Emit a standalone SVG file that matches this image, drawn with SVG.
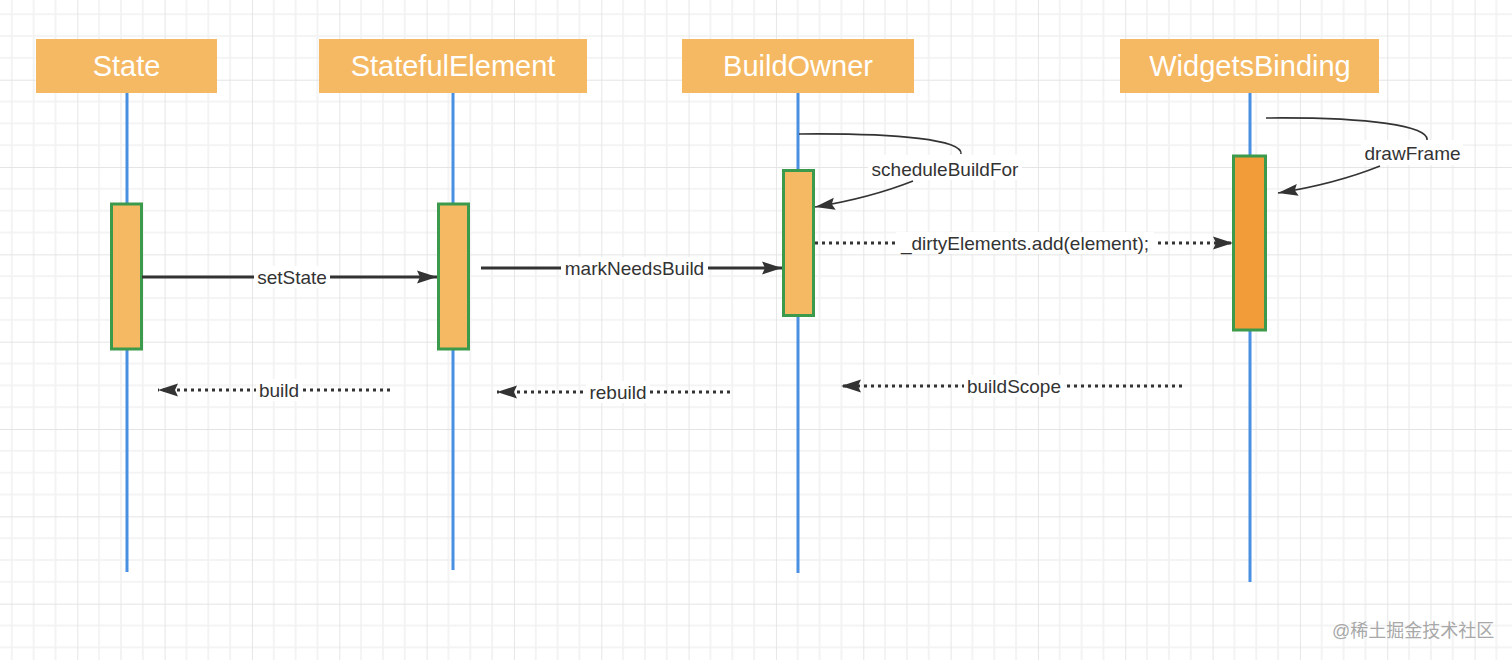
<svg xmlns="http://www.w3.org/2000/svg" width="1512" height="660" viewBox="0 0 1512 660">
<style>
.hdr{fill:#f5b963}
.hdrt{font-family:"Liberation Sans",Arial,sans-serif;font-size:29px;fill:#ffffff;text-anchor:middle}
.life{stroke:#4a90e2;stroke-width:3;fill:none}
.act{fill:#f5b963;stroke:#3c9a4c;stroke-width:3}
.act2{fill:#f19c38;stroke:#3c9a4c;stroke-width:3}
.solid{stroke:#333;stroke-width:3;fill:none}
.dot{stroke:#333;stroke-width:3;fill:none;stroke-dasharray:3 4}
.curve{stroke:#333;stroke-width:1.6;fill:none}
.lbl{font-family:"Liberation Sans",Arial,sans-serif;font-size:19px;fill:#333;text-anchor:middle}
.bg{fill:#ffffff}
.wm{font-family:"Liberation Sans","Noto Sans CJK SC",sans-serif;font-size:18px;fill:#a8a8a8}
</style>
<defs>
<pattern id="grid" patternUnits="userSpaceOnUse" x="77.3" y="79.7" width="87.33" height="87.33">
<g stroke="#f1f1f1" stroke-width="1.6">
<line x1="21.83" y1="0" x2="21.83" y2="87.33"/>
<line x1="43.67" y1="0" x2="43.67" y2="87.33"/>
<line x1="65.5" y1="0" x2="65.5" y2="87.33"/>
<line x1="0" y1="21.83" x2="87.33" y2="21.83"/>
<line x1="0" y1="43.67" x2="87.33" y2="43.67"/>
<line x1="0" y1="65.5" x2="87.33" y2="65.5"/>
</g>
<g stroke="#e4e4e4" stroke-width="1.8">
<line x1="0" y1="0" x2="0" y2="87.33"/>
<line x1="0" y1="0" x2="87.33" y2="0"/>
</g>
</pattern>
<marker id="ah" markerUnits="userSpaceOnUse" markerWidth="22" markerHeight="14" refX="20" refY="7" orient="auto">
<path d="M0,0.5 L20,7 L0,13.5 L3,7 z" fill="#333"/>
</marker>
<marker id="ahs" markerUnits="userSpaceOnUse" markerWidth="22" markerHeight="14" refX="20" refY="7" orient="auto">
<path d="M0,1 L20,7 L0,13 L3,7 z" fill="#333"/>
</marker>
</defs>
<rect width="1512" height="660" fill="#ffffff"/>
<rect width="1512" height="660" fill="url(#grid)"/>

<g id="lifelines">
<line class="life" x1="127" y1="93" x2="127" y2="572"/>
<line class="life" x1="453" y1="93" x2="453" y2="570"/>
<line class="life" x1="798" y1="93" x2="798" y2="573"/>
<line class="life" x1="1250" y1="93" x2="1250" y2="582"/>
</g>

<g id="State">
<rect class="hdr" x="36" y="39" width="181" height="54"/>
<text class="hdrt" x="126.5" y="76">State</text>
<rect class="act" x="111.5" y="204" width="30" height="145"/>
</g>
<g id="StatefulElement">
<rect class="hdr" x="319" y="39" width="268" height="54"/>
<text class="hdrt" x="453" y="76">StatefulElement</text>
<rect class="act" x="438.5" y="204" width="30" height="145"/>
</g>
<g id="BuildOwner">
<rect class="hdr" x="682" y="39" width="232" height="54"/>
<text class="hdrt" x="798" y="76">BuildOwner</text>
<rect class="act" x="783.5" y="170.5" width="30" height="145"/>
</g>
<g id="WidgetsBinding">
<rect class="hdr" x="1120" y="39" width="259" height="54"/>
<text class="hdrt" x="1250" y="76">WidgetsBinding</text>
<rect class="act2" x="1233.5" y="156" width="32" height="174"/>
</g>

<g id="connectors">
<path class="solid" d="M142,277 L437,277" marker-end="url(#ah)"/>
<path class="solid" d="M481,268 L782,268" marker-end="url(#ah)"/>
<path class="dot" d="M815,243 L1233,243" marker-end="url(#ah)"/>
<path class="dot" d="M390,390 L158,390" marker-end="url(#ah)"/>
<path class="dot" d="M730,392 L497,392" marker-end="url(#ah)"/>
<path class="dot" d="M1182,386 L841,386" marker-end="url(#ah)"/>
<path class="curve" d="M799,134 C900,133 963,140 961,154"/>
<path class="curve" d="M913,181 Q870,198 815,207" marker-end="url(#ahs)"/>
<path class="curve" d="M1266,118 C1370,117 1429,126 1427,140"/>
<path class="curve" d="M1380,166 Q1335,184 1278,193" marker-end="url(#ahs)"/>
</g>

<g id="labels">
<rect class="bg" x="254" y="266" width="76" height="22"/>
<text class="lbl" x="292" y="284">setState</text>
<rect class="bg" x="561" y="257" width="147" height="22"/>
<text class="lbl" x="634.5" y="275">markNeedsBuild</text>
<rect class="bg" x="896" y="232" width="258" height="22"/>
<text class="lbl" x="1025" y="250">_dirtyElements.add(element);</text>
<rect class="bg" x="256" y="379" width="46" height="22"/>
<text class="lbl" x="279" y="397">build</text>
<rect class="bg" x="586" y="381" width="64" height="22"/>
<text class="lbl" x="618" y="399">rebuild</text>
<rect class="bg" x="964" y="375" width="100" height="22"/>
<text class="lbl" x="1014" y="393">buildScope</text>
<rect class="bg" x="868" y="155" width="154" height="25"/>
<text class="lbl" x="945" y="176">scheduleBuildFor</text>
<rect class="bg" x="1361" y="140" width="102" height="25"/>
<text class="lbl" x="1412.5" y="160">drawFrame</text>
</g>

<text class="wm" x="1332" y="637">@稀土掘金技术社区</text>
</svg>
